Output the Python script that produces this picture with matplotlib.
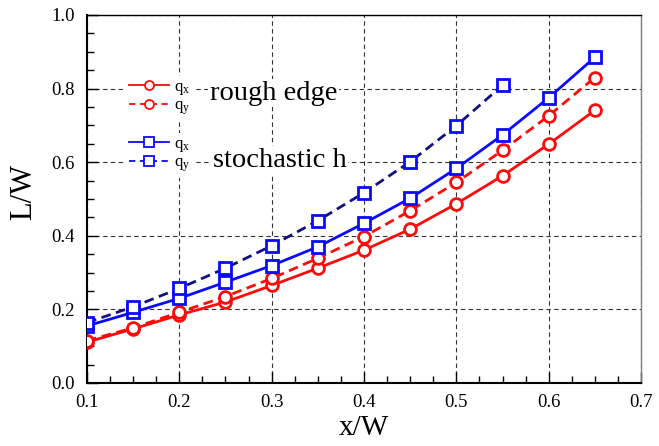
import numpy as np
import matplotlib
matplotlib.use('Agg')
import matplotlib.pyplot as plt
from matplotlib.lines import Line2D
from matplotlib.ticker import MultipleLocator, FormatStrFormatter

plt.rcParams['font.family'] = ['Liberation Serif', 'DejaVu Serif']
plt.rcParams['mathtext.fontset'] = 'custom'
plt.rcParams['mathtext.rm'] = 'Liberation Serif'
plt.rcParams['mathtext.it'] = 'Liberation Serif'

# x/W positions
x_rough = [0.10, 0.15, 0.20, 0.25, 0.30, 0.35, 0.40, 0.45, 0.50, 0.55, 0.60, 0.65]
x_stoch_x = [0.10, 0.15, 0.20, 0.25, 0.30, 0.35, 0.40, 0.45, 0.50, 0.55, 0.60, 0.65]
x_stoch_y = [0.10, 0.15, 0.20, 0.25, 0.30, 0.35, 0.40, 0.45, 0.50, 0.55]

# L/W values
rough_qx = [0.111, 0.147, 0.185, 0.220, 0.265, 0.312, 0.361, 0.418, 0.487, 0.563, 0.649, 0.741]
rough_qy = [0.115, 0.150, 0.192, 0.235, 0.284, 0.339, 0.398, 0.468, 0.545, 0.632, 0.726, 0.830]
stoch_qx = [0.155, 0.192, 0.230, 0.274, 0.319, 0.370, 0.434, 0.502, 0.583, 0.674, 0.775, 0.885]
stoch_qy = [0.164, 0.207, 0.257, 0.312, 0.373, 0.441, 0.517, 0.601, 0.699, 0.809]

RED = '#ff0a0a'
BLUE = '#0a0aff'
NAVY = '#101080'
DASH = (0, (3.5, 2))

fig = plt.figure(figsize=(6.59, 4.46), dpi=100)
ax = fig.add_axes([0.132, 0.1413, 0.8407, 0.8251])

mk = dict(markersize=8.5, markerfacecolor='white', markeredgewidth=2.0, linewidth=2.0)
ax.plot(x_rough, rough_qx, color=RED, marker='o', markeredgecolor=RED, zorder=4, **mk)
ax.plot(x_rough, rough_qy, color=RED, marker='o', markeredgecolor=RED, linestyle=DASH, zorder=4, **mk)
ax.plot(x_stoch_x, stoch_qx, color=BLUE, marker='s', markeredgecolor=BLUE, zorder=4, **mk)
ax.plot(x_stoch_y, stoch_qy, color=NAVY, marker='s', markeredgecolor=BLUE, linestyle=DASH, zorder=4, **mk)

ax.set_xlim(0.1, 0.7)
ax.set_ylim(0.0, 1.0)
ax.xaxis.set_major_locator(MultipleLocator(0.1))
ax.xaxis.set_minor_locator(MultipleLocator(0.025))
ax.yaxis.set_major_locator(MultipleLocator(0.2))
ax.yaxis.set_minor_locator(MultipleLocator(0.05))
ax.xaxis.set_major_formatter(FormatStrFormatter('%.1f'))
ax.yaxis.set_major_formatter(FormatStrFormatter('%.1f'))
ax.tick_params(which='both', direction='in', top=False, right=False, labelsize=13.5)
ax.tick_params(which='major', length=8, width=1.0)
ax.tick_params(which='minor', length=5, width=1.0)
ax.tick_params(axis='x', pad=8)
ax.tick_params(axis='y', pad=9)
ax.grid(which='major', color='0.2', linestyle=(0, (4, 3)), linewidth=0.8)
ax.set_axisbelow(True)
ax.spines['left'].set_linewidth(1.5)
ax.spines['bottom'].set_linewidth(1.5)
ax.spines['top'].set_linewidth(1.0)
ax.spines['right'].set_color('0.5')
ax.spines['right'].set_linewidth(1.0)

ax.set_xlabel('x/W', fontsize=21)
ax.set_ylabel('L/W', fontsize=22)
ax.xaxis.set_label_coords(0.5, -0.088)
ax.yaxis.set_label_coords(-0.088, 0.52)

lmk = dict(markersize=6.5, markerfacecolor='white', markeredgewidth=1.3, linewidth=1.3)
h_red = [Line2D([], [], color=RED, marker='o', markeredgecolor=RED, **lmk),
         Line2D([], [], color=RED, marker='o', markeredgecolor=RED, linestyle=(0, (3.5, 2.5)), **lmk)]
h_blue = [Line2D([], [], color=BLUE, marker='s', markeredgecolor=BLUE, **lmk),
          Line2D([], [], color=BLUE, marker='s', markeredgecolor=BLUE, linestyle=(0, (3.5, 2.5)), **lmk)]
labels = ['q$_{\\mathrm{x}}$', 'q$_{\\mathrm{y}}$']

leg_kw = dict(frameon=True, facecolor='white', edgecolor='none', framealpha=1.0,
              fontsize=12, handlelength=2.4, handletextpad=0.3, labelspacing=0.05,
              borderpad=0.2, borderaxespad=0)
leg1 = ax.legend(h_red, labels, loc='upper left', bbox_to_anchor=(0.07, 0.835), **leg_kw)
ax.add_artist(leg1)
leg2 = ax.legend(h_blue, labels, loc='upper left', bbox_to_anchor=(0.07, 0.68), **leg_kw)

box = dict(facecolor='white', edgecolor='none', pad=1)
ax.text(0.233, 0.787, 'rough edge', fontsize=20.5, ha='left', va='center', bbox=box)
ax.text(0.236, 0.605, 'stochastic h', fontsize=20.5, ha='left', va='center', bbox=box)

fig.savefig('out.png', dpi=100)
